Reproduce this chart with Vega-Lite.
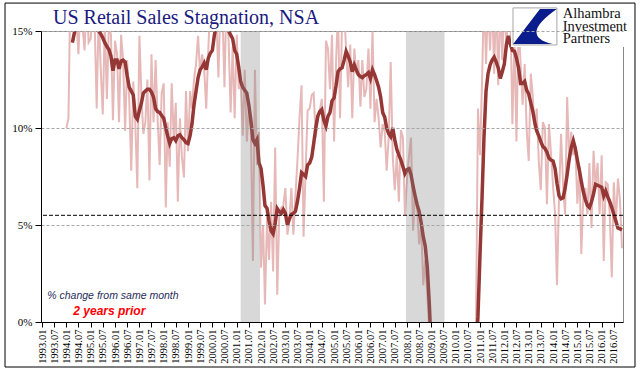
{
"$schema": "https://vega.github.io/schema/vega-lite/v6.json",
"width": 582, "height": 291,
"autosize": {"type": "none"},
"padding": {"left": 41, "top": 31, "right": 18, "bottom": 53},
"background": "white",
"title": {"text": "US Retail Sales Stagnation, NSA", "anchor": "start", "frame": "group", "dx": 12, "offset": -25.5, "font": "Liberation Serif", "fontSize": 20, "fontWeight": "normal", "color": "#1a1a80"},
"datasets": {
"sales": [
{"d":"1994-01","m":10.0},{"d":"1994-02","m":10.5},{"d":"1994-03","m":17.0},{"d":"1994-04","m":16.0,"a":14.4},{"d":"1994-05","m":17.5,"a":14.9},{"d":"1994-06","m":15.5,"a":15.4},{"d":"1994-07","m":13.8,"a":15.8},{"d":"1994-08","m":16.5,"a":16.0},{"d":"1994-09","m":15.2,"a":16.2},{"d":"1994-10","m":14.0,"a":16.1},{"d":"1994-11","m":16.8,"a":16.0},{"d":"1994-12","m":14.4,"a":15.9},
{"d":"1995-01","m":14.6,"a":15.7},{"d":"1995-02","m":16.5,"a":15.5},{"d":"1995-03","m":15.5,"a":15.3},{"d":"1995-04","m":11.0,"a":15.1},{"d":"1995-05","m":16.0,"a":15.0},{"d":"1995-06","m":13.0,"a":14.85},{"d":"1995-07","m":10.7,"a":14.65},{"d":"1995-08","m":15.5,"a":14.4},{"d":"1995-09","m":11.5,"a":14.2},{"d":"1995-10","m":15.3,"a":14.05},{"d":"1995-11","m":14.8,"a":13.7},{"d":"1995-12","m":10.4,"a":12.95},
{"d":"1996-01","m":14.5,"a":13.5},{"d":"1996-02","m":13.8,"a":13.5},{"d":"1996-03","m":10.3,"a":13.05},{"d":"1996-04","m":14.8,"a":13.45},{"d":"1996-05","m":13.5,"a":13.5},{"d":"1996-06","m":9.85,"a":13.4},{"d":"1996-07","m":13.5,"a":12.7},{"d":"1996-08","m":11.5,"a":12.1},{"d":"1996-09","m":7.8,"a":11.9},{"d":"1996-10","m":12.4,"a":11.7},{"d":"1996-11","m":10.2,"a":10.6},{"d":"1996-12","m":6.9,"a":10.45},
{"d":"1997-01","m":14.75,"a":10.9},{"d":"1997-02","m":11.6,"a":11.3},{"d":"1997-03","m":9.7,"a":11.8},{"d":"1997-04","m":10.3,"a":11.9},{"d":"1997-05","m":12.5,"a":12.0},{"d":"1997-06","m":7.3,"a":12.0},{"d":"1997-07","m":13.8,"a":11.85},{"d":"1997-08","m":10.3,"a":11.6},{"d":"1997-09","m":13.5,"a":11.0},{"d":"1997-10","m":10.5,"a":10.85},{"d":"1997-11","m":8.1,"a":10.8},{"d":"1997-12","m":11.8,"a":10.65},
{"d":"1998-01","m":12.3,"a":10.5},{"d":"1998-02","m":5.9,"a":10.0},{"d":"1998-03","m":10.3,"a":9.6},{"d":"1998-04","m":8.0,"a":9.2},{"d":"1998-05","m":12.3,"a":9.45},{"d":"1998-06","m":9.5,"a":9.5},{"d":"1998-07","m":11.3,"a":9.35},{"d":"1998-08","m":6.2,"a":9.6},{"d":"1998-09","m":10.5,"a":9.65},{"d":"1998-10","m":8.5,"a":9.5},{"d":"1998-11","m":7.45,"a":9.4},{"d":"1998-12","m":11.9,"a":9.25},
{"d":"1999-01","m":8.8,"a":9.2},{"d":"1999-02","m":11.9,"a":9.6},{"d":"1999-03","m":11.0,"a":10.2},{"d":"1999-04","m":12.5,"a":11.2},{"d":"1999-05","m":13.3,"a":11.9},{"d":"1999-06","m":14.75,"a":12.6},{"d":"1999-07","m":12.8,"a":13.0},{"d":"1999-08","m":13.8,"a":13.15},{"d":"1999-09","m":13.0,"a":13.35},{"d":"1999-10","m":11.0,"a":13.0},{"d":"1999-11","m":14.0,"a":13.6},{"d":"1999-12","m":16.5,"a":13.85},
{"d":"2000-01","m":15.5,"a":14.0},{"d":"2000-02","m":17.0,"a":14.8},{"d":"2000-03","m":15.8,"a":15.3},{"d":"2000-04","m":12.6,"a":15.6},{"d":"2000-05","m":16.5,"a":15.8},{"d":"2000-06","m":16.0,"a":15.7},{"d":"2000-07","m":12.1,"a":15.5},{"d":"2000-08","m":17.0,"a":15.2},{"d":"2000-09","m":14.5,"a":15.0},{"d":"2000-10","m":10.8,"a":14.8},{"d":"2000-11","m":14.2,"a":14.6},{"d":"2000-12","m":10.5,"a":14.0},
{"d":"2001-01","m":14.8,"a":13.8},{"d":"2001-02","m":12.0,"a":13.1},{"d":"2001-03","m":12.6,"a":12.4},{"d":"2001-04","m":9.6,"a":12.1},{"d":"2001-05","m":13.0,"a":11.95},{"d":"2001-06","m":9.3,"a":11.8},{"d":"2001-07","m":11.0,"a":11.2},{"d":"2001-08","m":10.0,"a":10.4},{"d":"2001-09","m":3.15,"a":9.4},{"d":"2001-10","m":13.0,"a":9.2},{"d":"2001-11","m":8.1,"a":9.4},{"d":"2001-12","m":9.8,"a":8.2},
{"d":"2002-01","m":2.8,"a":7.9},{"d":"2002-02","m":5.0,"a":7.0},{"d":"2002-03","m":0.9,"a":6.0},{"d":"2002-04","m":5.4,"a":5.85},{"d":"2002-05","m":3.2,"a":5.2},{"d":"2002-06","m":6.2,"a":4.7},{"d":"2002-07","m":2.6,"a":4.55},{"d":"2002-08","m":9.0,"a":5.1},{"d":"2002-09","m":1.4,"a":5.85},{"d":"2002-10","m":5.5,"a":5.7},{"d":"2002-11","m":5.9,"a":5.6},{"d":"2002-12","m":6.0,"a":5.8},
{"d":"2003-01","m":6.9,"a":5.6},{"d":"2003-02","m":4.5,"a":5.0},{"d":"2003-03","m":5.2,"a":5.3},{"d":"2003-04","m":6.9,"a":5.55},{"d":"2003-05","m":4.5,"a":5.6},{"d":"2003-06","m":6.5,"a":5.7},{"d":"2003-07","m":8.3,"a":6.2},{"d":"2003-08","m":10.5,"a":6.9},{"d":"2003-09","m":12.2,"a":7.7},{"d":"2003-10","m":4.4,"a":7.6},{"d":"2003-11","m":7.8,"a":7.5},{"d":"2003-12","m":10.9,"a":8.1},
{"d":"2004-01","m":11.0,"a":8.2},{"d":"2004-02","m":11.7,"a":8.5},{"d":"2004-03","m":11.8,"a":9.2},{"d":"2004-04","m":9.5,"a":10.0},{"d":"2004-05","m":10.4,"a":10.6},{"d":"2004-06","m":10.9,"a":10.85},{"d":"2004-07","m":11.5,"a":10.95},{"d":"2004-08","m":6.2,"a":10.4},{"d":"2004-09","m":14.5,"a":10.1},{"d":"2004-10","m":14.1,"a":10.6},{"d":"2004-11","m":12.0,"a":10.8},{"d":"2004-12","m":14.8,"a":11.4},
{"d":"2005-01","m":9.3,"a":11.55},{"d":"2005-02","m":13.5,"a":12.2},{"d":"2005-03","m":16.0,"a":12.9},{"d":"2005-04","m":10.5,"a":13.05},{"d":"2005-05","m":15.5,"a":13.1},{"d":"2005-06","m":16.2,"a":13.5},{"d":"2005-07","m":14.0,"a":13.95},{"d":"2005-08","m":12.1,"a":13.7},{"d":"2005-09","m":14.3,"a":13.4},{"d":"2005-10","m":10.5,"a":12.9},{"d":"2005-11","m":14.1,"a":13.25},{"d":"2005-12","m":12.8,"a":13.0},
{"d":"2006-01","m":13.5,"a":12.75},{"d":"2006-02","m":11.1,"a":12.65},{"d":"2006-03","m":13.5,"a":12.6},{"d":"2006-04","m":11.6,"a":12.7},{"d":"2006-05","m":12.0,"a":12.75},{"d":"2006-06","m":14.1,"a":12.85},{"d":"2006-07","m":11.0,"a":12.55},{"d":"2006-08","m":15.0,"a":13.0},{"d":"2006-09","m":10.3,"a":12.75},{"d":"2006-10","m":11.5,"a":12.45},{"d":"2006-11","m":10.5,"a":12.1},{"d":"2006-12","m":9.0,"a":11.6},
{"d":"2007-01","m":10.2,"a":10.8},{"d":"2007-02","m":9.8,"a":10.55},{"d":"2007-03","m":7.8,"a":10.0},{"d":"2007-04","m":9.5,"a":9.7},{"d":"2007-05","m":13.4,"a":9.55},{"d":"2007-06","m":8.5,"a":10.0},{"d":"2007-07","m":6.8,"a":9.4},{"d":"2007-08","m":8.6,"a":8.9},{"d":"2007-09","m":6.2,"a":8.6},{"d":"2007-10","m":9.9,"a":8.35},{"d":"2007-11","m":9.5,"a":8.0},{"d":"2007-12","m":5.5,"a":7.65},
{"d":"2008-01","m":7.4,"a":7.85},{"d":"2008-02","m":8.6,"a":7.9},{"d":"2008-03","m":9.5,"a":7.6},{"d":"2008-04","m":4.7,"a":7.0},{"d":"2008-05","m":6.6,"a":6.5},{"d":"2008-06","m":5.9,"a":6.05},{"d":"2008-07","m":4.0,"a":5.7},{"d":"2008-08","m":5.0,"a":5.1},{"d":"2008-09","m":1.9,"a":4.4},{"d":"2008-10","m":3.2,"a":3.9},{"d":"2008-11","m":1.4,"a":2.8},{"d":"2008-12","m":-0.5,"a":0.9},
{"d":"2009-01","m":-3.0,"a":-1.5},{"d":"2009-02","m":-5.0,"a":-3.5},{"d":"2009-03","m":-7.0,"a":-5.0},{"d":"2009-04","m":-9.0,"a":-6.0},{"d":"2009-05","m":-10.0,"a":-7.0},{"d":"2009-06","m":-11.0,"a":-7.5},{"d":"2009-07","m":-10.0,"a":-8.0},{"d":"2009-08","m":-9.0,"a":-8.0},{"d":"2009-09","m":-9.5,"a":-8.0},{"d":"2009-10","m":-8.0,"a":-7.8},{"d":"2009-11","m":-8.5,"a":-7.5},{"d":"2009-12","m":-7.0,"a":-7.2},
{"d":"2010-01","m":-7.5,"a":-7.0},{"d":"2010-02","m":-6.0,"a":-6.5},{"d":"2010-03","m":-6.5,"a":-6.2},{"d":"2010-04","m":-5.0,"a":-6.0},{"d":"2010-05","m":-5.5,"a":-5.5},{"d":"2010-06","m":-4.0,"a":-5.0},{"d":"2010-07","m":-4.5,"a":-4.5},{"d":"2010-08","m":-3.0,"a":-4.0},{"d":"2010-09","m":-3.5,"a":-3.5},{"d":"2010-10","m":-2.0,"a":-3.0},{"d":"2010-11","m":-0.5,"a":-1.5},{"d":"2010-12","m":11.0,"a":0.3},
{"d":"2011-01","m":8.6,"a":3.5},{"d":"2011-02","m":12.5,"a":6.5},{"d":"2011-03","m":17.0,"a":9.5},{"d":"2011-04","m":13.3,"a":11.9},{"d":"2011-05","m":16.5,"a":12.8},{"d":"2011-06","m":14.0,"a":13.25},{"d":"2011-07","m":16.8,"a":13.5},{"d":"2011-08","m":12.8,"a":13.65},{"d":"2011-09","m":17.0,"a":13.4},{"d":"2011-10","m":12.2,"a":13.1},{"d":"2011-11","m":16.5,"a":12.55},{"d":"2011-12","m":13.5,"a":12.9},
{"d":"2012-01","m":16.8,"a":13.3},{"d":"2012-02","m":14.0,"a":14.3},{"d":"2012-03","m":17.0,"a":14.75},{"d":"2012-04","m":16.0,"a":14.3},{"d":"2012-05","m":10.2,"a":14.0},{"d":"2012-06","m":14.6,"a":13.95},{"d":"2012-07","m":9.3,"a":13.6},{"d":"2012-08","m":15.5,"a":13.1},{"d":"2012-09","m":13.3,"a":12.3},{"d":"2012-10","m":11.2,"a":12.3},{"d":"2012-11","m":13.3,"a":12.4},{"d":"2012-12","m":9.9,"a":11.95},
{"d":"2013-01","m":8.3,"a":11.75},{"d":"2013-02","m":12.8,"a":11.3},{"d":"2013-03","m":11.7,"a":10.9},{"d":"2013-04","m":9.9,"a":10.3},{"d":"2013-05","m":11.0,"a":9.85},{"d":"2013-06","m":8.3,"a":9.6},{"d":"2013-07","m":6.8,"a":9.3},{"d":"2013-08","m":10.3,"a":9.05},{"d":"2013-09","m":10.0,"a":8.95},{"d":"2013-10","m":6.07,"a":8.75},{"d":"2013-11","m":10.2,"a":8.45},{"d":"2013-12","m":8.7,"a":8.35},
{"d":"2014-01","m":7.0,"a":8.3},{"d":"2014-02","m":5.55,"a":7.9},{"d":"2014-03","m":1.9,"a":7.15},{"d":"2014-04","m":6.5,"a":6.5},{"d":"2014-05","m":9.7,"a":6.35},{"d":"2014-06","m":7.0,"a":6.4},{"d":"2014-07","m":5.55,"a":6.9},{"d":"2014-08","m":11.6,"a":7.6},{"d":"2014-09","m":8.3,"a":8.4},{"d":"2014-10","m":9.8,"a":9.0},{"d":"2014-11","m":8.6,"a":9.35},{"d":"2014-12","m":9.1,"a":8.95},
{"d":"2015-01","m":6.1,"a":8.35},{"d":"2015-02","m":8.0,"a":7.8},{"d":"2015-03","m":3.5,"a":7.25},{"d":"2015-04","m":6.6,"a":6.7},{"d":"2015-05","m":6.9,"a":6.3},{"d":"2015-06","m":5.55,"a":6.0},{"d":"2015-07","m":8.2,"a":5.9},{"d":"2015-08","m":4.85,"a":6.2},{"d":"2015-09","m":8.82,"a":6.6},{"d":"2015-10","m":7.0,"a":7.1},{"d":"2015-11","m":8.2,"a":7.05},{"d":"2015-12","m":5.55,"a":7.0},
{"d":"2016-01","m":8.6,"a":6.95},{"d":"2016-02","m":3.15,"a":6.5},{"d":"2016-03","m":7.2,"a":6.75},{"d":"2016-04","m":7.1,"a":6.45},{"d":"2016-05","m":5.55,"a":6.2},{"d":"2016-06","m":2.3,"a":5.9},{"d":"2016-07","m":7.2,"a":5.55},{"d":"2016-08","m":5.1,"a":5.2},{"d":"2016-09","m":7.4,"a":4.85},{"d":"2016-10","m":6.3,"a":4.8},{"d":"2016-11","m":3.8,"a":4.75}
],
"rec": [{"s":"2001-03-01","e":"2001-12-16"},{"s":"2007-12-16","e":"2009-07-16"}],
"one": [{"k": 1}]
},
"layer": [
{"data": {"name": "sales"}, "mark": {"type": "line", "color": "#e6b9b8", "strokeWidth": 2, "clip": true},
 "encoding": {
  "x": {"field": "d", "type": "temporal",
   "scale": {"type": "utc", "domain": [{"year":1992,"month":12,"date":16,"utc":true},{"year":2016,"month":11,"date":16,"utc":true}]},
   "axis": {"title": null, "labelExpr": "utcFormat(datum.value, '%Y.%m')", "tickCount": {"interval": "month", "step": 6}, "labelAngle": 270, "labelFont": "Liberation Serif", "labelFontSize": 10.5, "labelColor": "#000000", "tickColor": "#000000", "tickSize": 5, "labelPadding": 2, "domainColor": "#000000", "grid": false, "labelOverlap": false, "labelFlush": false, "labelBound": false, "zindex": 1}},
  "y": {"field": "m", "type": "quantitative",
   "scale": {"domain": [0, 15], "nice": false, "zero": true},
   "axis": {"title": null, "values": [0, 5, 10, 15], "labelExpr": "datum.value + '%'", "labelFont": "Liberation Serif", "labelFontSize": 11, "labelColor": "#000000", "tickColor": "#000000", "tickSize": 6, "labelPadding": 3, "domainColor": "#000000", "grid": true, "gridColor": "#a6a6a6", "gridDash": [3, 2], "zindex": 1}}
 }},
{"data": {"name": "sales"}, "mark": {"type": "line", "color": "#953735", "strokeWidth": 3.5, "clip": true},
 "encoding": {"x": {"field": "d", "type": "temporal"}, "y": {"field": "a", "type": "quantitative"}}},
{"data": {"name": "rec"}, "mark": {"type": "rect", "color": "#7f7f7f", "opacity": 0.3},
 "encoding": {"x": {"field": "s", "type": "temporal"}, "x2": {"field": "e"}}},
{"data": {"name": "one"}, "mark": {"type": "rule", "color": "#000000", "strokeWidth": 1, "strokeDash": [4, 2]},
 "encoding": {"y": {"datum": 5.5, "type": "quantitative"}}},
{"data": {"name": "one"}, "mark": {"type": "rect", "color": "#ffffff", "opacity": 1},
 "encoding": {"x": {"datum": {"year":2012,"month":4,"date":10,"utc":true}, "type": "temporal"}, "x2": {"datum": {"year":2017,"month":4,"date":15,"utc":true}}, "y": {"datum": 16.4, "type": "quantitative"}, "y2": {"datum": 14.18}}},
{"data": {"name": "one"}, "mark": {"type": "rect", "fill": "#ffffff", "stroke": "#a6a6a6", "strokeWidth": 1},
 "encoding": {"x": {"datum": {"year":2012,"month":5,"date":10,"utc":true}, "type": "temporal"}, "x2": {"datum": {"year":2014,"month":2,"date":28,"utc":true}}, "y": {"datum": 16.19, "type": "quantitative"}, "y2": {"datum": 14.28}}},
{"data": {"name": "one"}, "mark": {"type": "point", "shape": "M0.27,-0.95L1.18,-0.95Q-0.9,0.5,0.95,0.95L-1.18,0.95Z", "filled": true, "color": "#0b1d8c", "opacity": 1, "size": 1369, "strokeWidth": 0},
 "encoding": {"x": {"datum": {"year":2013,"month":4,"date":5,"utc":true}, "type": "temporal"}, "y": {"datum": 15.23, "type": "quantitative"}}},
{"data": {"name": "one"}, "mark": {"type": "text", "text": "Alhambra\nInvestment\nPartners", "lineBreak": "\n", "lineHeight": 12.4, "align": "left", "baseline": "alphabetic", "font": "Liberation Serif", "fontSize": 14.5, "color": "#111111"},
 "encoding": {"x": {"datum": {"year":2014,"month":5,"date":26,"utc":true}, "type": "temporal"}, "y": {"datum": 15.65, "type": "quantitative"}}},
{"data": {"name": "one"}, "mark": {"type": "text", "text": "% change from same month", "align": "left", "baseline": "alphabetic", "font": "Liberation Sans", "fontStyle": "italic", "fontSize": 10.5, "color": "#1f2d5a"},
 "encoding": {"x": {"datum": {"year":1993,"month":3,"date":20,"utc":true}, "type": "temporal"}, "y": {"datum": 1.2, "type": "quantitative"}}},
{"data": {"name": "one"}, "mark": {"type": "text", "text": "2 years prior", "align": "left", "baseline": "alphabetic", "font": "Liberation Sans", "fontStyle": "italic", "fontWeight": "bold", "fontSize": 12, "color": "#ff0000"},
 "encoding": {"x": {"datum": {"year":1994,"month":4,"date":15,"utc":true}, "type": "temporal"}, "y": {"datum": 0.38, "type": "quantitative"}}},
{"data": {"name": "one"}, "mark": {"type": "rect", "fill": null, "fillOpacity": 0, "stroke": "#000000", "strokeWidth": 1},
 "encoding": {"x": {"datum": {"year":1991,"month":6,"date":25,"utc":true}, "type": "temporal"}, "x2": {"datum": {"year":2017,"month":5,"date":15,"utc":true}}, "y": {"datum": 16.44, "type": "quantitative"}, "y2": {"datum": -2.32}}}
],
"config": {"view": {"stroke": "#868686", "strokeWidth": 1}}
}
